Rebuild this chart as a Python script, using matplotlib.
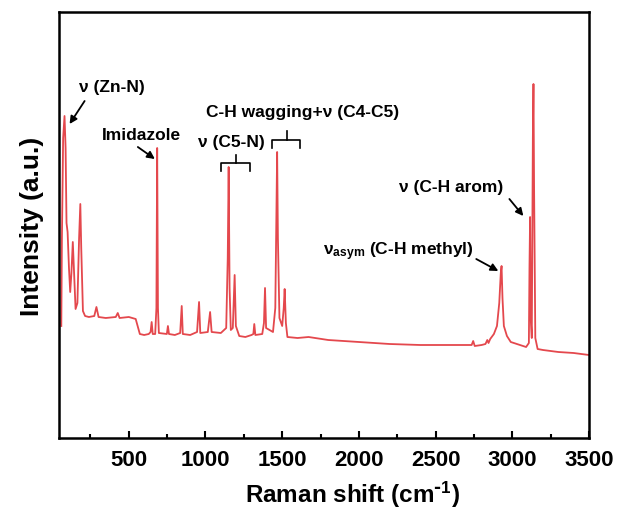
import numpy as np
import matplotlib
matplotlib.use('Agg')
import matplotlib.pyplot as plt

plt.rcParams['font.family'] = ['Liberation Sans', 'DejaVu Sans']
plt.rcParams['font.weight'] = 'bold'
plt.rcParams['mathtext.default'] = 'regular'

# Raman spectrum trace (cm-1, a.u.)
shift = [60, 64, 72, 81, 88, 94, 101, 110, 118, 126, 135, 142, 153, 165, 176, 184,
         190, 201, 215, 240, 275, 289, 303, 350, 415, 428, 440, 500, 545, 572,
         600, 630, 642, 649, 656, 672, 680, 685, 690, 696, 748, 755, 762, 800,
         835, 845, 852, 900, 945, 958, 966, 1015, 1030, 1040, 1100, 1135, 1145,
         1151, 1157, 1165, 1178, 1190, 1198, 1220, 1260, 1300, 1312, 1318, 1325,
         1370, 1381, 1388, 1395, 1440, 1455, 1462, 1467, 1472, 1482, 1500, 1510,
         1516, 1524, 1534, 1600, 1672, 1800, 2000, 2200, 2400, 2600, 2735, 2745,
         2755, 2800, 2825, 2837, 2845, 2856, 2880, 2900, 2915, 2925, 2930, 2936,
         2945, 2965, 2990, 3050, 3090, 3108, 3112, 3116, 3120, 3127, 3134, 3138,
         3142, 3150, 3165, 3200, 3300, 3400, 3500]
intensity = [112, 200, 300, 322, 290, 215, 206, 170, 146, 165, 196, 170, 129, 135, 200, 234,
             190, 127, 122, 121, 122, 131, 121, 120, 121, 125, 120, 121, 119, 104,
             103, 104, 106, 116, 104, 104, 130, 290, 130, 105, 104, 112, 104, 103,
             105, 132, 104, 103, 106, 136, 105, 106, 126, 106, 105, 110, 180,
             271, 150, 108, 110, 163, 112, 102, 101, 103, 104, 114, 103,
             104, 115, 150, 110, 106, 130, 220, 286, 200, 120, 112, 130,
             149, 115, 101, 100, 101, 98, 96, 94, 93, 93, 93, 97,
             92, 93, 94, 98, 95, 99, 104, 112, 135, 165, 172, 140,
             112, 102, 96, 93, 91, 95, 170, 221, 120, 100, 300, 354,
             250, 100, 89, 88, 86, 85, 83]

fig = plt.figure(figsize=(6.2, 5.1), dpi=100)
fig.set_facecolor('w')
ax = fig.add_axes([59 / 620, 1 - 439 / 510, 530 / 620, 426 / 510])

ax.plot(shift, intensity, color='#e4484d', lw=1.3)

ax.set_xlim(45, 3500)
ax.set_ylim(0, 426)
ax.set_xticks([500, 1000, 1500, 2000, 2500, 3000, 3500])
ax.set_xticks(np.arange(250, 3500, 500), minor=True)
ax.set_yticks([])
ax.tick_params(axis='x', which='major', direction='in', length=5, width=1.5,
               labelsize=16, pad=8)
ax.tick_params(axis='x', which='minor', direction='in', length=3, width=1.5)
for s in ax.spines.values():
    s.set_linewidth(1.8)

ax.set_xlabel(r'Raman shift (cm$^{\text{-}1}$)', fontsize=17.5, fontweight='bold')
ax.xaxis.set_label_coords((352 - 59) / 530, -0.095)
ax.set_ylabel('Intensity (a.u.)', fontsize=19, fontweight='bold', labelpad=11)

fs = 12.5
arrow = dict(arrowstyle='-|>', color='k', lw=1.3, mutation_scale=11, shrinkA=0, shrinkB=0)

ax.text(389, 351, 'ν (Zn-N)', fontsize=fs, ha='center', va='center')
ax.annotate('', xy=(114, 314), xytext=(212, 337), arrowprops=arrow)

ax.text(582, 303, 'Imidazole', fontsize=fs, ha='center', va='center')
ax.annotate('', xy=(670, 279), xytext=(559, 291), arrowprops=arrow)

ax.text(1168, 296, 'ν (C5-N)', fontsize=fs, ha='center', va='center')
ax.plot([1102, 1102, 1292, 1292], [267, 275, 275, 267], color='k', lw=1.2)
ax.plot([1197, 1197], [275, 283], color='k', lw=1.2)

ax.text(1632, 326, 'C-H wagging+ν (C4-C5)', fontsize=fs, ha='center', va='center')
ax.plot([1436, 1436, 1619, 1619], [290, 298, 298, 290], color='k', lw=1.2)
ax.plot([1534, 1534], [298, 307], color='k', lw=1.2)

ax.text(2254, 187, '$ν_{asym}$ (C-H methyl)', fontsize=fs, ha='center', va='center')
ax.annotate('', xy=(2909, 167), xytext=(2765, 179), arrowprops=arrow)

ax.text(2601, 251, 'ν (C-H arom)', fontsize=fs, ha='center', va='center')
ax.annotate('', xy=(3072, 222), xytext=(2981, 239), arrowprops=arrow)

fig.savefig('out.png', dpi=100)
